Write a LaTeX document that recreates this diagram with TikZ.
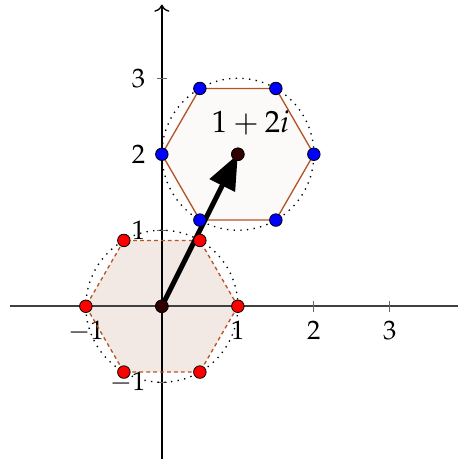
\documentclass[tikz,border=0pt]{standalone}
\usepackage{mathpazo}
\usetikzlibrary{arrows.meta}
\definecolor{hexedge}{RGB}{180,85,40}
\definecolor{hexfillA}{RGB}{243,233,228}
\definecolor{hexfillB}{RGB}{252,250,249}
\definecolor{centredot}{RGB}{50,0,0}

\begin{document}
\begin{tikzpicture}[
  vdot/.style={circle, draw=black, line width=0.3pt, inner sep=0pt, minimum size=0.165cm},
  reddot/.style={vdot, fill=red},
  bluedot/.style={vdot, fill=blue},
  cdot/.style={vdot, fill=centredot},
  hexline/.style={hexedge, line width=0.5pt},
  axisline/.style={black!75, line width=0.6pt},
  ticklbl/.style={inner sep=2pt}
]
  \useasboundingbox (-2.13,-2.01) rectangle (3.9,4.03);
  % vertices of both hexagons
  \foreach \a in {0,60,...,300} {
    \coordinate (r\a) at (\a:1);
    \coordinate (b\a) at ([shift={(1,2)}]\a:1);
  }
  % fills
  \fill[hexfillA] (r0) -- (r60) -- (r120) -- (r180) -- (r240) -- (r300) -- cycle;
  \fill[hexfillB] (b0) -- (b60) -- (b120) -- (b180) -- (b240) -- (b300) -- cycle;
  % axes
  \draw[axisline] (-2,0) -- (3.9,0);
  \draw[black, line width=0.5pt, -{To}] (0,-2.01) -- (0,3.97);
  \foreach \t in {-1,1,2,3} {
    \draw[black!60, line width=0.4pt] (\t,-0.07) -- (\t,0.07);
    \draw[black!60, line width=0.4pt] (-0.07,\t) -- (0.07,\t);
    \node[ticklbl, anchor=north] (xl\t) at (\t,-0.12) {$\t$};
    \node[ticklbl, anchor=east] (yl\t) at (-0.14,\t) {$\t$};
  }
  % unit circles
  \draw[dotted, line width=0.5pt] (0,0) circle (1);
  \draw[dotted, line width=0.5pt] (1,2) circle (1);
  % hexagon edges
  \draw[hexline, dash pattern=on 1.4pt off 1.2pt] (r0) -- (r60) -- (r120) -- (r180) -- (r240) -- (r300) -- cycle;
  \draw[hexline] (b0) -- (b60) -- (b120) -- (b180) -- (b240) -- (b300) -- cycle;
  % centres
  \node[cdot] (o) at (0,0) {};
  \node[cdot] (c) at (1,2) {};
  \draw[line width=1.9pt, -{Triangle[length=0.46cm, width=0.36cm]}] (o.center) -- (c.center);
  \node[cdot] at (c) {};
  \node[cdot] at (o) {};
  % vertex dots
  \foreach \a in {0,60,...,300} {
    \node[reddot] (rd\a) at (r\a) {};
    \node[bluedot] (bd\a) at (b\a) {};
  }
  \node[font=\fontsize{11.5}{14}\selectfont] (lbl) at (1.17,2.41) {$1+2i$};
\end{tikzpicture}
\end{document}
